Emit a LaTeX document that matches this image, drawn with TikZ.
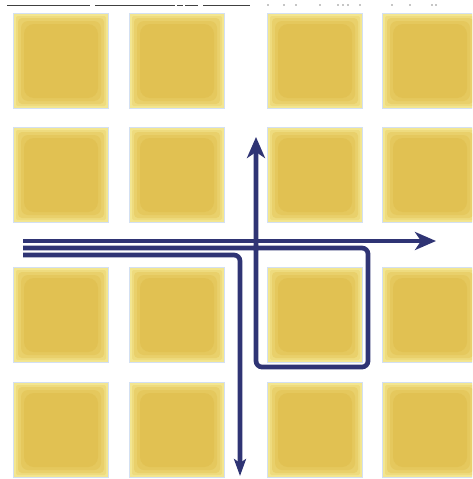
\documentclass[tikz,border=0pt]{standalone}
\usetikzlibrary{arrows.meta}
\definecolor{navy}{HTML}{2F3474}
\definecolor{halo}{HTML}{D3E0F2}
\definecolor{ya}{HTML}{F3E690}
\definecolor{yb}{HTML}{EEDB7E}
\definecolor{yc}{HTML}{E9D06B}
\definecolor{yd}{HTML}{E5C85D}
\definecolor{ye}{HTML}{E1C152}
\newcommand\tile[2]{%
  \fill[halo] (#1-1.2,#2-1.2) rectangle (#1+95.2,#2+95.2);
  \fill[ya] (#1,#2) rectangle (#1+94,#2+94);
  \fill[yb,rounded corners=2] (#1+2,#2+2) rectangle (#1+92,#2+92);
  \fill[yc,rounded corners=4] (#1+4,#2+4) rectangle (#1+90,#2+90);
  \fill[yd,rounded corners=7] (#1+7,#2+7) rectangle (#1+87,#2+87);
  \fill[ye,rounded corners=10] (#1+10,#2+10) rectangle (#1+84,#2+84);
}
\tikzset{
  route/.style={draw=navy, line width=4.7pt, rounded corners=6pt, line join=round},
  bigtip/.style={-{Stealth[length=21pt,width=18pt,inset=6pt]}},
  smalltip/.style={-{Stealth[length=17pt,width=12pt,inset=4pt]}},
  rule/.style={draw=black!75, line width=1pt}
}
\begin{document}
\begin{tikzpicture}[x=1pt,y=-1pt]
\useasboundingbox (0,0) rectangle (472,479);
\fill[white] (0,0) rectangle (472,479);
\begin{scope}
\clip (0,0) rectangle (472,479);
\foreach \cx in {14,130,268,383}{
  \foreach \cy in {14,128,268,383}{
    \tile{\cx}{\cy}
  }
}
\end{scope}
% top rules (cropped text remnants)
\draw[rule] (7,5) -- (90,5);
\draw[rule] (95,5) -- (175,5);
\draw[rule] (177,5) -- (183,5);
\draw[rule] (185,5) -- (198,5);
\draw[rule] (203,5) -- (250,5);
\foreach \dx in {268,284,296,320,338,343,348,360,392,410,432,436}{
  \fill[black!45] (\dx,5) circle (0.8);
}
% named points
\coordinate (a1) at (23,241);
\coordinate (a2) at (436,241);
\coordinate (b1) at (23,248);
\coordinate (b2) at (368,248);
\coordinate (b3) at (368,367);
\coordinate (b4) at (256,367);
\coordinate (b5) at (256,137);
\coordinate (c1) at (23,255);
\coordinate (c2) at (240,255);
\coordinate (c3) at (240,476);
% routes
\draw[route,bigtip] (a1) -- (a2);
\draw[route,bigtip] (b1) -- (b2) -- (b3) -- (b4) -- (b5);
\draw[route,smalltip] (c1) -- (c2) -- (c3);
\end{tikzpicture}
\end{document}
